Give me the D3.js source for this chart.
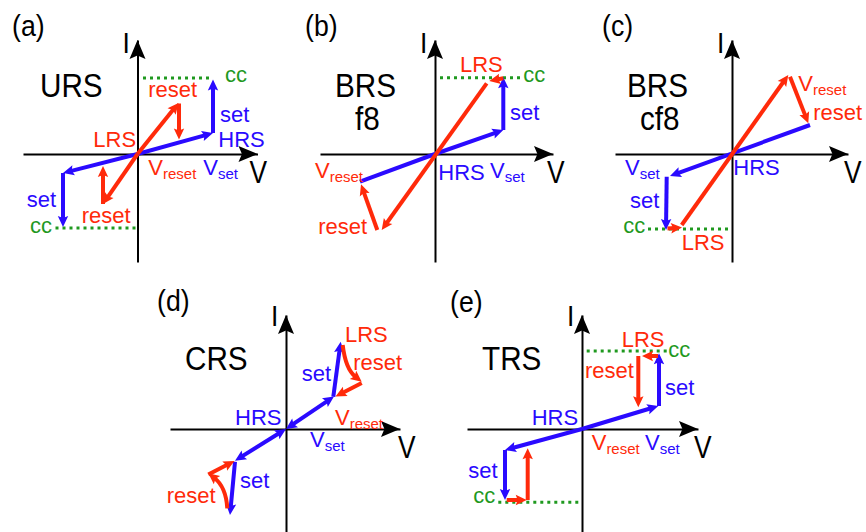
<!DOCTYPE html>
<html>
<head>
<meta charset="utf-8">
<script src="https://cdn.jsdelivr.net/npm/d3@7"></script>
<style>
body { margin: 0; background: #fff; }
svg { display: block; }
text { font-family: "Liberation Sans", Arial, sans-serif; }
</style>
</head>
<body>
<svg id="fig" width="866" height="532"></svg>
<script>
// ---- data: all points in (V, I) units, origin at 0,0 ----
// panel (a) URS
const ursAxes = {x: [-11.45, 12.0], y: [-10.8, 11.4]};
const ursBlue = [
	{p: [[0, 0], [7.55, 2.1]], head: "end"},
	{p: [[7.55, 2.1], [7.55, 7.45]], head: "end"},
	{p: [[0, 0], [-7.45, -1.9]], head: "end"},
	{p: [[-7.45, -1.9], [-7.45, -7.3]], head: "end"}
];
const ursRed = [
	{p: [[0, 0], [4.1, 5.1]], head: "end"},
	{p: [[4.15, 5.05], [4.15, 1.45]], head: "end"},
	{p: [[0, 0], [-3.45, -5.0]], head: "end"},
	{p: [[-3.45, -5.0], [-3.45, -1.2]], head: "end"}
];
const ursCc = [[[0.55, 7.6], [7.55, 7.6]], [[-8.2, -7.4], [-0.05, -7.4]]];
const ursTitle = [{t: "URS", at: [-9.75, 5.7]}];
const ursLabels = [
	{t: "reset", c: "red", at: [1.08, 5.73]},
	{t: "set", c: "blue", at: [8.25, 3.23]},
	{t: "HRS", c: "blue", at: [8.08, 0.73]},
	{t: "LRS", c: "red", at: [-4.42, 0.73]},
	{t: "V", sub: "reset", c: "red", at: [1.08, -2.1]},
	{t: "V", sub: "set", c: "blue", at: [6.58, -2.1]},
	{t: "set", c: "blue", at: [-11.08, -5.33]},
	{t: "reset", c: "red", at: [-5.58, -6.87]},
	{t: "cc", c: "green", at: [8.75, 7.23]},
	{t: "cc", c: "green", at: [-10.75, -7.93]}
];

// panel (b) BRS f8
const brsAxes = {x: [-11.5, 11.8], y: [-10.8, 11.4]};
const brsBlue = [
	{p: [[0, 0], [6.83, 2.4]], head: "end"},
	{p: [[6.83, 2.4], [6.83, 7.67]], head: "end"},
	{p: [[0, 0], [-7.5, -2.77]], head: "none"}
];
const brsRed = [
	{p: [[6.83, 7.57], [5.43, 7.3]], head: "end"},
	{p: [[5.17, 7.07], [-5.33, -7.6]], head: "end"},
	{p: [[-5.77, -7.6], [-7.4, -3.03]], head: "end"}
];
const brsCc = [[[0.5, 7.63], [8.5, 7.63]]];
const brsTitle = [{t: "BRS", at: [-10.0, 5.7]}, {t: "f8", at: [-8.0, 2.4]}];
const brsLabels = [
	{t: "LRS", c: "red", at: [2.5, 8.23]},
	{t: "cc", c: "green", at: [8.83, 7.23]},
	{t: "set", c: "blue", at: [7.5, 3.4]},
	{t: "HRS", c: "blue", at: [0.33, -2.6]},
	{t: "V", sub: "set", c: "blue", at: [5.5, -2.35]},
	{t: "V", sub: "reset", c: "red", at: [-12.0, -2.35]},
	{t: "reset", c: "red", at: [-11.67, -8.0]}
];

// panel (c) BRS cf8
const cf8Axes = {x: [-11.7, 11.6], y: [-10.8, 11.4]};
const cf8Blue = [
	{p: [[7.8, 2.9], [-6.2, -2.2]], head: "end"},
	{p: [[-6.53, -2.27], [-6.6, -7.6]], head: "end"}
];
const cf8Red = [
	{p: [[-5.03, -7.1], [5.63, 7.9]], head: "end"},
	{p: [[5.8, 7.73], [7.63, 3.07]], head: "end"},
	{p: [[-6.45, -7.45], [-5.0, -7.35]], head: "end"}
];
const cf8Cc = [[[-8.4, -7.5], [0, -7.5]]];
const cf8Title = [{t: "BRS", at: [-10.5, 5.7]}, {t: "cf8", at: [-9.2, 2.4]}];
const cf8Labels = [
	{t: "V", sub: "reset", c: "red", at: [6.63, 6.33]},
	{t: "reset", c: "red", at: [8.13, 3.4]},
	{t: "V", sub: "set", c: "blue", at: [-10.7, -2.1]},
	{t: "set", c: "blue", at: [-10.2, -5.4]},
	{t: "HRS", c: "blue", at: [0.13, -2.1]},
	{t: "LRS", c: "red", at: [-5.03, -9.6]},
	{t: "cc", c: "green", at: [-10.87, -7.93]}
];

// panel (d) CRS
const crsAxes = {x: [-11.6, 11.4], y: [-10.4, 11.4]};
const crsBlue = [
	{p: [[0, 0], [4.8, 3.25]], head: "both"},
	{p: [[4.73, 3.23], [5.47, 8.73]], head: "end"},
	{p: [[0, 0], [-5.1, -3.17]], head: "both"},
	{p: [[-5.1, -3.27], [-5.6, -8.6]], head: "end"}
];
const crsRed = [
	{p: [[5.67, 8.4], [5.95, 6.0], [7.57, 4.73]], head: "end"},
	{p: [[7.57, 4.6], [4.95, 3.25]], head: "end"},
	{p: [[-5.87, -7.93], [-6.0, -5.8], [-7.77, -4.43]], head: "end"},
	{p: [[-7.77, -4.55], [-5.15, -3.2]], head: "end"}
];
const crsCc = [];
const crsTitle = [{t: "CRS", at: [-10.1, 5.9]}];
const crsLabels = [
	{t: "LRS", c: "red", at: [5.9, 8.75]},
	{t: "reset", c: "red", at: [6.73, 5.9]},
	{t: "set", c: "blue", at: [1.57, 4.8]},
	{t: "HRS", c: "blue", at: [-5.1, 0.4]},
	{t: "V", sub: "reset", c: "red", at: [4.9, 0.4]},
	{t: "V", sub: "set", c: "blue", at: [2.4, -1.77]},
	{t: "set", c: "blue", at: [-4.6, -5.9]},
	{t: "reset", c: "red", at: [-11.93, -7.4]}
];

// panel (e) TRS
const trsAxes = {x: [-11.5, 11.6], y: [-10.4, 11.4]};
const trsBlue = [
	{p: [[0, 0], [7.63, 2.3]], head: "end"},
	{p: [[7.7, 2.3], [7.7, 7.57]], head: "end"},
	{p: [[0, 0], [-7.7, -2.1]], head: "end"},
	{p: [[-7.7, -2.1], [-7.7, -7.1]], head: "end"}
];
const trsRed = [
	{p: [[7.6, 7.3], [6.0, 7.3]], head: "end"},
	{p: [[5.63, 7.3], [5.63, 2.17]], head: "end"},
	{p: [[-7.53, -7.1], [-5.53, -7.1]], head: "end"},
	{p: [[-5.43, -7.1], [-5.43, -1.93]], head: "end"}
];
const trsCc = [[[0.47, 7.8], [8.47, 7.8]], [[-8.37, -7.33], [-0.37, -7.33]]];
const trsTitle = [{t: "TRS", at: [-10.0, 5.9]}];
const trsLabels = [
	{t: "LRS", c: "red", at: [3.97, 8.23]},
	{t: "cc", c: "green", at: [8.63, 7.2]},
	{t: "reset", c: "red", at: [0.3, 5.1]},
	{t: "set", c: "blue", at: [8.3, 3.4]},
	{t: "HRS", c: "blue", at: [-5.03, 0.4]},
	{t: "V", sub: "reset", c: "red", at: [0.97, -2.1]},
	{t: "V", sub: "set", c: "blue", at: [6.3, -2.1]},
	{t: "set", c: "blue", at: [-11.37, -4.9]},
	{t: "cc", c: "green", at: [-10.87, -7.43]}
];

// ---- layout ----
const UNIT = 10; // px per unit
const panels = [
	{tag: "(a)", origin: [137.5, 154], axes: ursAxes, blue: ursBlue, red: ursRed, cc: ursCc, title: ursTitle, labels: ursLabels, tagAt: [-12.55, 11.8], iDrop: 13},
	{tag: "(b)", origin: [435, 154], axes: brsAxes, blue: brsBlue, red: brsRed, cc: brsCc, title: brsTitle, labels: brsLabels, tagAt: [-13.0, 11.8], iDrop: 12.5},
	{tag: "(c)", origin: [732, 154], axes: cf8Axes, blue: cf8Blue, red: cf8Red, cc: cf8Cc, title: cf8Title, labels: cf8Labels, tagAt: [-13.0, 11.8], iDrop: 12.5},
	{tag: "(d)", origin: [286, 429], axes: crsAxes, blue: crsBlue, red: crsRed, cc: crsCc, title: crsTitle, labels: crsLabels, tagAt: [-12.9, 11.8], iDrop: 10.5},
	{tag: "(e)", origin: [582, 429], axes: trsAxes, blue: trsBlue, red: trsRed, cc: trsCc, title: trsTitle, labels: trsLabels, tagAt: [-13.2, 11.7], iDrop: 10.5}
];

const RED = "#ff2a0a", BLUE = "#2a0aff", GREEN = "#1f991f";
const colorOf = {red: RED, blue: BLUE, green: GREEN};

const svg = d3.select("#fig");

function arrow_head(g, tip, from, len, half, color) {
	const dx = tip[0] - from[0], dy = tip[1] - from[1], d = Math.hypot(dx, dy);
	const ux = dx / d, uy = dy / d, px = -uy, py = ux;
	const bx = tip[0] - ux * len, by = tip[1] - uy * len;
	const nx = tip[0] - ux * len * 0.82, ny = tip[1] - uy * len * 0.82;
	g.append("path")
		.attr("d", "M" + tip[0] + "," + tip[1] +
			"L" + (bx + px * half) + "," + (by + py * half) +
			"L" + nx + "," + ny +
			"L" + (bx - px * half) + "," + (by - py * half) + "Z")
		.attr("fill", color);
}

function pull_back(pt, toward, dist) {
	const dx = toward[0] - pt[0], dy = toward[1] - pt[1], d = Math.hypot(dx, dy);
	return [pt[0] + dx / d * dist, pt[1] + dy / d * dist];
}

function draw_seg(g, s, color, x, y) {
	const pts = s.p.map(function(d) { return [x(d[0]), y(d[1])]; });
	const n = pts.length;
	const L = 11, H = 5.2;
	let a = pts[0], b = pts[n - 1];
	if (s.head === "end" || s.head === "both") b = pull_back(pts[n - 1], pts[n - 2], L * 0.7);
	if (s.head === "both") a = pull_back(pts[0], pts[1], L * 0.7);
	let d = "M" + a[0] + "," + a[1];
	if (n === 3) d += "Q" + pts[1][0] + "," + pts[1][1] + " " + b[0] + "," + b[1];
	else d += "L" + b[0] + "," + b[1];
	g.append("path")
		.attr("d", d)
		.attr("fill", "none")
		.attr("stroke", color)
		.attr("stroke-width", 4);
	if (s.head === "end" || s.head === "both") arrow_head(g, pts[n - 1], pts[n - 2], L, H, color);
	if (s.head === "both") arrow_head(g, pts[0], pts[1], L, H, color);
}

function big_text(g, str, px, py, size, sx) {
	g.append("text")
		.attr("transform", "translate(" + px + "," + py + ") scale(" + sx + ",1)")
		.attr("font-size", size)
		.attr("fill", "#000")
		.text(str);
}

panels.forEach(function(p) {
	const ox = p.origin[0], oy = p.origin[1];
	const x = d3.scaleLinear().domain(p.axes.x)
		.range([ox + p.axes.x[0] * UNIT, ox + p.axes.x[1] * UNIT]);
	const y = d3.scaleLinear().domain(p.axes.y)
		.range([oy - p.axes.y[0] * UNIT, oy - p.axes.y[1] * UNIT]);

	const g = svg.append("g");

	// axes without ticks, arrow tips added by hand
	g.append("g")
		.attr("transform", "translate(0," + y(0) + ")")
		.call(d3.axisBottom(x).tickValues([]).tickSizeOuter(0))
		.call(function(a) { a.select(".domain").attr("stroke", "#000").attr("stroke-width", 2); });
	g.append("g")
		.attr("transform", "translate(" + x(0) + ",0)")
		.call(d3.axisLeft(y).tickValues([]).tickSizeOuter(0))
		.call(function(a) { a.select(".domain").attr("stroke", "#000").attr("stroke-width", 2); });
	arrow_head(g, [x(p.axes.x[1]), y(0)], [x(0), y(0)], 19, 8, "#000");
	arrow_head(g, [x(0), y(p.axes.y[1])], [x(0), y(0)], 19, 8, "#000");

	// compliance current lines
	p.cc.forEach(function(c) {
		g.append("line")
			.attr("x1", x(c[0][0])).attr("y1", y(c[0][1]))
			.attr("x2", x(c[1][0])).attr("y2", y(c[1][1]))
			.attr("stroke", GREEN)
			.attr("stroke-width", 3)
			.attr("stroke-dasharray", "3,4");
	});

	p.blue.forEach(function(s) { draw_seg(g, s, BLUE, x, y); });
	p.red.forEach(function(s) { draw_seg(g, s, RED, x, y); });

	// texts
	big_text(g, p.tag, x(p.tagAt[0]), y(p.tagAt[1]), 29, 0.92);
	p.title.forEach(function(t) { big_text(g, t.t, x(t.at[0]), y(t.at[1]), 33, 0.9); });
	big_text(g, "I", x(-1.5), y(p.axes.y[1]) + p.iDrop, 30, 0.88);
	big_text(g, "V", x(11.2), y(-2.9), 31, 0.85);

	p.labels.forEach(function(l) {
		const t = g.append("text")
			.attr("x", x(l.at[0]))
			.attr("y", y(l.at[1]))
			.attr("fill", colorOf[l.c])
			.attr("font-size", 22)
			.text(l.t);
		if (l.sub) t.append("tspan").attr("font-size", 15).attr("dy", 4).text(l.sub);
	});
});
</script>
</body>
</html>
